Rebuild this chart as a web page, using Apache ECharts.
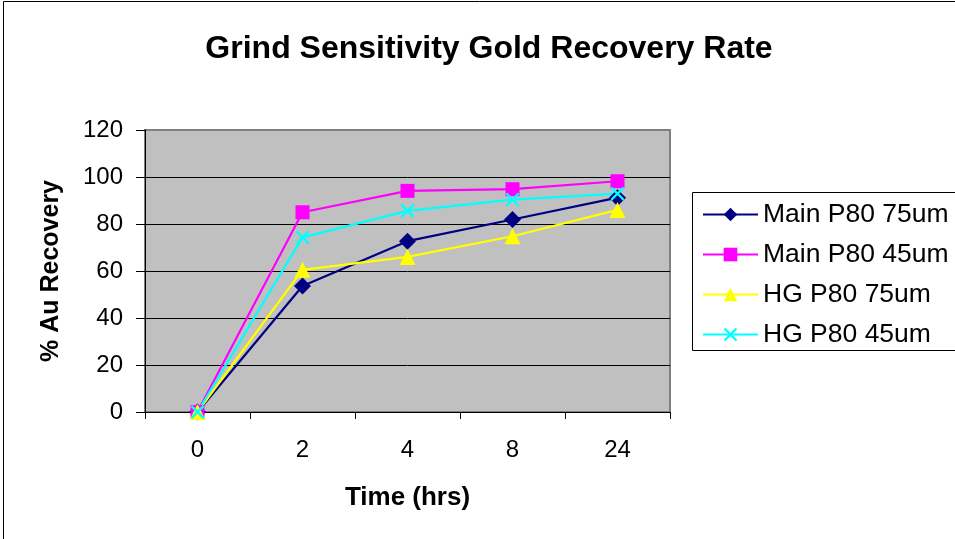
<!DOCTYPE html>
<html>
<head>
<meta charset="utf-8">
<script src="https://cdn.jsdelivr.net/npm/echarts@6/dist/echarts.min.js"></script>
<style>html,body{margin:0;padding:0;background:#fff}#c{width:955px;height:539px}</style>
</head>
<body>
<div id="c"></div>
<script>
const categories = ['0', '2', '4', '8', '24'];
const mainP80_75 = [0, 53.6, 72.7, 81.9, 91.2];
const mainP80_45 = [0, 85.0, 94.1, 94.8, 98.2];
const hgP80_75 = [0, 60.5, 66.0, 74.8, 86.0];
const hgP80_45 = [0, 74.3, 85.6, 90.4, 92.9];
const yTicks = [0, 20, 40, 60, 80, 100, 120];

const FONT = '"Liberation Sans", Arial, sans-serif';
const xPath = 'path://M0,1.2 L1.2,0 L5,3.8 L8.8,0 L10,1.2 L6.2,5 L10,8.8 L8.8,10 L5,6.2 L1.2,10 L0,8.8 L3.8,5 Z';

const chart = echarts.init(document.getElementById('c'));
function mk(name, data, color, symbol, size) {
  return {
    name: name, type: 'line', data: data,
    symbol: symbol, symbolSize: size, showSymbol: true,
    lineStyle: { color: color, width: 2.2 },
    itemStyle: { color: color },
    emphasis: { disabled: true },
    animation: false
  };
}
chart.setOption({
  backgroundColor: '#ffffff',
  animation: false,
  title: {
    text: 'Grind Sensitivity Gold Recovery Rate',
    left: 484, top: 28, textAlign: 'center',
    textStyle: { fontFamily: FONT, fontSize: 32, fontWeight: 'bold', color: '#000' }
  },
  grid: {
    left: 145, right: 285, top: 130, bottom: 127,
    show: true, backgroundColor: '#c0c0c0', borderColor: '#808080', borderWidth: 2
  },
  legend: {
    orient: 'vertical', left: 697, top: 196,
    itemWidth: 55, itemHeight: 17, itemGap: 13,
    textStyle: { fontFamily: FONT, fontSize: 26.5, color: '#000', lineHeight: 27 },
    data: ['Main P80 75um', 'Main P80 45um', 'HG P80 75um', 'HG P80 45um']
  },
  xAxis: {
    type: 'category', data: categories, boundaryGap: true,
    name: 'Time (hrs)', nameLocation: 'middle', nameGap: 73,
    nameTextStyle: { fontFamily: FONT, fontSize: 26, fontWeight: 'bold', color: '#000' },
    axisLine: { lineStyle: { color: '#000', width: 1 } },
    axisTick: { show: true, length: 7, lineStyle: { color: '#000' } },
    axisLabel: { fontFamily: FONT, fontSize: 24, color: '#000', margin: 26 },
    splitLine: { show: false }
  },
  yAxis: {
    type: 'value', min: 0, max: 120, interval: 20,
    name: '% Au Recovery', nameLocation: 'middle', nameGap: 81, nameRotate: 90,
    nameTextStyle: { fontFamily: FONT, fontSize: 25, fontWeight: 'bold', color: '#000' },
    axisLine: { show: true, lineStyle: { color: '#000', width: 1 } },
    axisTick: { show: true, length: 9, lineStyle: { color: '#000' } },
    axisLabel: { fontFamily: FONT, fontSize: 24, color: '#000', margin: 22,
      formatter: function (v) { return yTicks.indexOf(v) >= 0 ? String(v) : ''; } },
    splitLine: { show: true, lineStyle: { color: ['#000','#000','#000','#000','#000','#000','#808080'], width: 1 } }
  },
  graphic: [
    { type: 'rect', shape: { x: 3.5, y: 1.5, width: 1000, height: 1000 }, style: { fill: 'none', stroke: '#000', lineWidth: 1 }, z: -10, silent: true },
    { type: 'rect', shape: { x: 692.5, y: 192.5, width: 300, height: 158 }, style: { fill: '#fff', stroke: '#000', lineWidth: 1 }, z: -5, silent: true }
  ],
  series: [
    mk('Main P80 75um', mainP80_75, '#000080', 'diamond', 17),
    mk('Main P80 45um', mainP80_45, '#ff00ff', 'rect', 14),
    mk('HG P80 75um', hgP80_75, '#ffff00', 'triangle', 16),
    mk('HG P80 45um', hgP80_45, '#00ffff', xPath, 14)
  ]
});
</script>
</body>
</html>
